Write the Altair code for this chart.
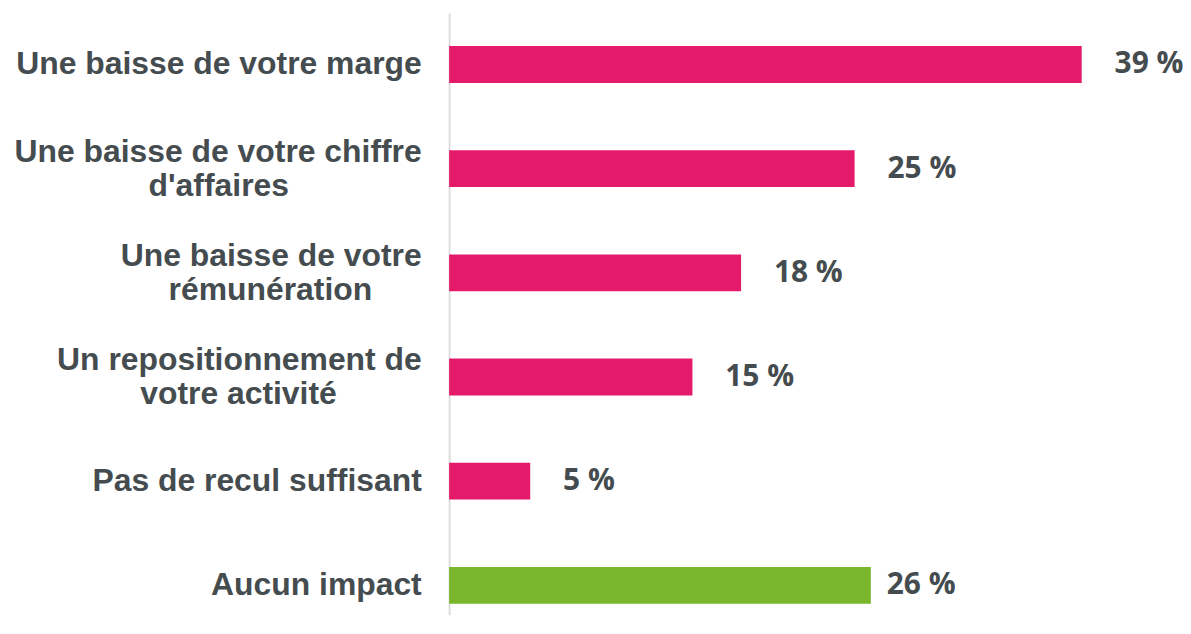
import altair as alt
import pandas as pd

# ---- data ----
categories = [
    "Une baisse de votre marge",
    "Une baisse de votre chiffre d'affaires",
    "Une baisse de votre rémunération",
    "Un repositionnement de votre activité",
    "Pas de recul suffisant",
    "Aucun impact",
]
values = [39, 25, 18, 15, 5, 26]
groups = ["impact", "impact", "impact", "impact", "impact", "aucun"]
value_labels = ["39 %", "25 %", "18 %", "15 %", "5 %", "26 %"]

# line wrapping of the category labels (second line centred under the first)
line_breaks = [
    ["Une baisse de votre marge"],
    ["Une baisse de votre chiffre", "d'affaires"],
    ["Une baisse de votre", "rémunération"],
    ["Un repositionnement de", "votre activité"],
    ["Pas de recul suffisant"],
    ["Aucun impact"],
]
NB = "\u00a0"
WJ = "\u2060"  # word joiner: keeps the trailing no-break spaces from hanging
trail_pad = ["", NB * 15, NB * 5 + "\u2006", NB * 9 + "\u2006", "", ""]

labels = []
for lines, pad in zip(line_breaks, trail_pad):
    if len(lines) > 1:
        labels.append(lines[0] + "\n" + lines[1] + pad + WJ)
    else:
        labels.append(lines[0])

df = pd.DataFrame({
    "category": categories,
    "label": labels,
    "value": values,
    "group": groups,
    "value_label": value_labels,
})

TEXT_COLOR = "#454C4F"

y_enc = alt.Y(
    "label:N",
    sort=labels,
    scale=alt.Scale(paddingInner=0.646, paddingOuter=0.21, align=0.75),
    axis=alt.Axis(
        title=None,
        domain=True,
        domainColor="#DDDDDD",
        domainWidth=2,
        ticks=False,
        grid=False,
        labelFont="Liberation Sans",
        labelFontWeight="bold",
        labelFontSize=32,
        labelColor=TEXT_COLOR,
        labelPadding=28,
        labelLineHeight=34.5,
        labelAlign="right",
        labelBaseline="middle",
        labelLimit=0,
        labelOffset={"condition": {"test": "indexof(datum.value, '\\n') >= 0", "value": -17},
                     "value": 0},
        labelExpr="split(datum.label, '\\n')",
    ),
)

x_enc = alt.X("value:Q", scale=alt.Scale(domain=[0, 45]), axis=None)

base = alt.Chart(df).encode(y=y_enc, x=x_enc)

bars = base.mark_bar().encode(
    color=alt.Color(
        "group:N",
        scale=alt.Scale(domain=["impact", "aucun"], range=["#E61A6A", "#7AB72D"]),
        legend=None,
    )
)

text = base.mark_text(
    align="left",
    baseline="middle",
    dx=alt.ExprRef("datum.group == 'aucun' ? 16 : 33"),
    font="Open Sans",
    fontWeight="bold",
    fontSize=30,
    color=TEXT_COLOR,
).encode(text="value_label:N")

chart = (
    (bars + text)
    .properties(
        width=733,
        height=604,
        padding={"left": 443, "top": 4, "right": 4, "bottom": 0},
        autosize=alt.AutoSizeParams(type="none"),
        background="white",
    )
    .configure_view(stroke=None)
)

chart.save("out.html", embed_options={"renderer": "svg", "actions": False})
